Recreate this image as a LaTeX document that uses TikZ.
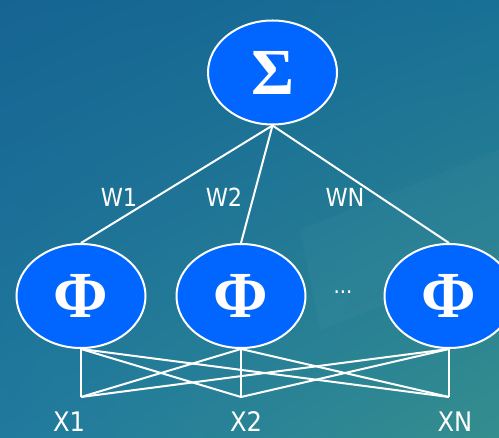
\documentclass[tikz,border=0pt]{standalone}
\usepackage{fontspec}
\setmainfont{DejaVu Sans Condensed}
\newfontfamily\greekfont{Liberation Serif}
\usetikzlibrary{shapes.geometric,shadings}
\definecolor{nodeblue}{RGB}{0,102,255}
\definecolor{bgUL}{RGB}{22,100,146}
\definecolor{bgUR}{RGB}{24,112,150}
\definecolor{bgLL}{RGB}{32,122,158}
\definecolor{bgLR}{RGB}{52,142,142}
\tikzset{
  unit/.style={ellipse, draw=white, line width=2bp, fill=nodeblue, text=white,
    minimum width=129bp, minimum height=104bp, inner sep=0pt,
    font=\greekfont\bfseries\fontsize{66}{66}\selectfont},
  wire/.style={draw=white, line width=2bp},
  wlabel/.style={text=white, anchor=base, inner sep=0pt, font=\fontsize{25}{25}\selectfont},
  xlabel/.style={text=white, anchor=base, inner sep=0pt, font=\fontsize{27}{27}\selectfont},
  dotslabel/.style={text=white, inner sep=0pt, font=\fontsize{22}{22}\selectfont}
}
\begin{document}
\begin{tikzpicture}[x=1bp,y=-1bp]
\useasboundingbox (0,0) rectangle (499,438);
\shade[upper left=bgUL, upper right=bgUR, lower left=bgLL, lower right=bgLR] (0,0) rectangle (499,438);
\begin{scope}
\clip (0,0) rectangle (499,438);
\fill[white, opacity=0.025] (300,230) -- (499,150) -- (499,260) -- (320,330) -- cycle;

\node[unit] (S) at (272.5,72.5) {Σ};
\node[unit] (P1) at (81,296) {Φ};
\node[unit] (P2) at (241,296) {Φ};
\node[unit] (P3) at (449,296) {Φ};

\coordinate (X1) at (81,397);
\coordinate (X2) at (241,397);
\coordinate (X3) at (449,397);

\draw[wire] (S.south) -- (P1.north);
\draw[wire] (S.south) -- (P2.north);
\draw[wire] (S.south) -- (P3.north);

\foreach \p in {P1,P2,P3}{
  \foreach \x in {X1,X2,X3}{
    \draw[wire] (\p.south) -- (\x);
  }
}

\node[wlabel] (w1) at (119,207) {W1};
\node[wlabel] (w2) at (224,207) {W2};
\node[wlabel] (wn) at (345,207) {WN};
\node[dotslabel] (dots) at (343,292) {...};
\node[xlabel] (l1) at (69,431) {X1};
\node[xlabel] (l2) at (246,431) {X2};
\node[xlabel] (l3) at (455,431) {XN};
\end{scope}
\end{tikzpicture}
\end{document}
